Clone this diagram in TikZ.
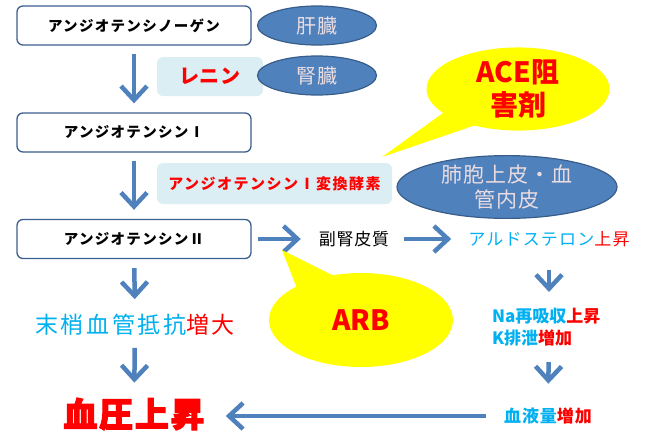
\documentclass[tikz,border=0pt]{standalone}
\usepackage{fontspec}
\setmainfont{Noto Sans CJK JP}
\usetikzlibrary{arrows.meta,shapes.geometric}
\definecolor{arrblue}{RGB}{79,129,189}
\definecolor{boxline}{RGB}{60,95,145}
\definecolor{lblue}{RGB}{219,238,244}
\definecolor{ellfill}{RGB}{79,129,189}
\definecolor{elldraw}{RGB}{56,93,138}
\definecolor{elltext}{RGB}{234,220,224}
\definecolor{cyanT}{RGB}{0,176,240}
\definecolor{redT}{RGB}{255,0,0}
\definecolor{bubble}{RGB}{255,255,0}
\newcommand{\fs}[2]{\fontsize{#1}{#2}\selectfont}
\tikzset{
  mainbox/.style={draw=boxline, line width=1.3pt, rounded corners=6pt, fill=white,
    minimum width=234pt, minimum height=39pt, inner sep=0pt,
    font=\fs{14.5}{17}\bfseries\addfontfeature{LetterSpace=9}},
  enzbox/.style={fill=lblue, rounded corners=6pt, inner sep=0pt, text=redT},
  organ/.style={ellipse, draw=elldraw, line width=1.2pt, fill=ellfill, text=elltext,
    inner sep=0pt, align=center},
  bubbleshape/.style={ellipse, fill=bubble, inner sep=0pt, text=redT, align=center},
  lbl/.style={inner sep=0pt, align=center},
  flow/.style={draw=arrblue, line width=4.5pt, -{Straight Barb[length=14pt,width=26pt]}},
}
\begin{document}
\begin{tikzpicture}[x=1pt,y=-1pt]
\useasboundingbox (0,0) rectangle (645,437);

% boxes
\node[mainbox] (b1) at (134,25.5) {アンジオテンシノーゲン};
\node[mainbox] (b2) at (134,132.5) {アンジオテンシンⅠ};
\node[mainbox] (b3) at (134,239) {アンジオテンシンⅡ};

% enzymes
\node[enzbox, minimum width=106pt, minimum height=39pt,
  font=\fs{20}{22}\bfseries\addfontfeature{LetterSpace=3}] (renin) at (210,76.5) {レニン};
\node[enzbox, minimum width=235pt, minimum height=41pt,
  font=\fs{15}{17}\bfseries\addfontfeature{LetterSpace=10}] (ace) at (274.5,183.5) {アンジオテンシンⅠ変換酵素};

% organs
\node[organ, minimum width=119pt, minimum height=39pt, font=\fs{20}{22}\addfontfeature{LetterSpace=7}] (liver) at (317,25.5) {肝臓};
\node[organ, minimum width=119pt, minimum height=39pt, font=\fs{20}{22}\addfontfeature{LetterSpace=7}] (kidney) at (317,75.5) {腎臓};
\node[organ, minimum width=220pt, minimum height=52pt, font=\fs{21}{25}\addfontfeature{LetterSpace=4}] (lung) at (507,187) {肺胞上皮・血\\管内皮};

% ACE inhibitor bubble
\fill[bubble] (382,157) -- (443,113) -- (476,125) -- cycle;
\node[bubbleshape, minimum width=183pt, minimum height=78pt, font=\fs{28}{33}\bfseries] (acei) at (518,89) {ACE阻\\害剤};

% side texts
\node[lbl, font=\fs{17}{19}\addfontfeature{LetterSpace=4}] (adrenal) at (354,239) {副腎皮質};
\node[lbl, font=\fs{17}{19}\addfontfeature{LetterSpace=7}] (aldo) at (549,239) {\textcolor{cyanT}{アルドステロン}\textcolor{redT}{上昇}};
\node[lbl, anchor=west, align=left, font=\fs{17}{22}\bfseries] (nak) at (492,327) {\textcolor{cyanT}{Na再吸収}\textcolor{redT}{上昇}\\\textcolor{cyanT}{K排泄}\textcolor{redT}{増加}};
\coordinate (nakc) at (aldo |- nak);
\node[lbl, font=\fs{17}{19}\bfseries\addfontfeature{LetterSpace=5}] (vol) at (548,416) {\textcolor{cyanT}{血液量}\textcolor{redT}{増加}};
\node[lbl, font=\fs{23}{25}\addfontfeature{LetterSpace=11}] (periph) at (135,325) {\textcolor{cyanT}{末梢血管抵抗}\textcolor{redT}{増大}};
\node[lbl, text=redT, font=\fs{34}{36}\bfseries\addfontfeature{LetterSpace=5,FakeBold=3}] (bp) at (134,414) {血圧上昇};

% arrows
\draw[flow, shorten <=8pt, shorten >=9pt] (b1) -- (b2);
\draw[flow, shorten <=8pt, shorten >=9pt] (b2) -- (b3);
\draw[flow, shorten <=9pt, shorten >=15pt] (b3) -- (periph);
\draw[flow, shorten <=12pt, shorten >=15pt] (periph) -- (bp);
\draw[flow, shorten <=6pt, shorten >=18pt] (b3) -- (adrenal);
\draw[flow, shorten <=15pt, shorten >=17pt] (adrenal) -- (aldo);
\draw[flow, shorten <=23pt, shorten >=35pt] (aldo) -- (nakc);
\draw[flow, shorten <=35pt, shorten >=24pt] (nakc) -- (vol);
\draw[flow, shorten <=18pt, shorten >=21pt] (vol.west) -- (vol.west -| bp.east);

% ARB bubble
\fill[bubble] (282,250) -- (300,296) -- (346,282) -- cycle;
\node[bubbleshape, minimum width=184pt, minimum height=94pt, font=\fs{28}{30}\bfseries] (arb) at (361,320) {ARB};
\end{tikzpicture}
\end{document}
